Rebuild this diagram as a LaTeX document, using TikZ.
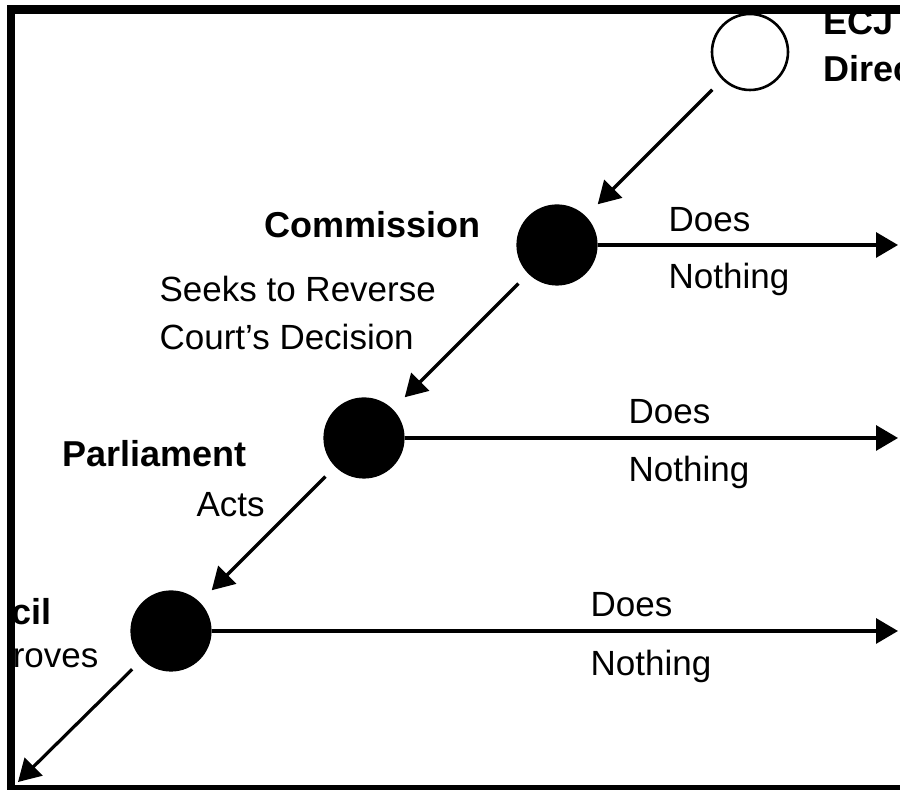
\documentclass[tikz,border=0pt]{standalone}
\usepackage{fontspec}
\setmainfont{Liberation Sans}
\usepackage{tikz}
\usetikzlibrary{positioning}
\usetikzlibrary{arrows.meta}
\tikzset{actor node/.style={circle,fill=black,draw,minimum size=39pt,inner sep=0pt},}
\tikzset{court node/.style={circle,fill=white,draw,line width=1.3pt,minimum size=38pt,inner sep=0pt},}
\tikzset{who/.style={font=\fontsize{18}{20}\selectfont\bfseries,inner sep=0pt},}
\tikzset{what/.style={font=\fontsize{17.5}{20}\selectfont,inner sep=0pt},}

\begin{document}
\begin{tikzpicture}[-{Triangle[length=11pt,width=12.5pt]}, x=1pt, y=1pt, line width=1.6pt, node distance=96.5pt and 96.5pt, on grid]
	\useasboundingbox (0,0) rectangle (450,395);
	\fill[white] (0,0) rectangle (450,395);
	\clip (0,0) rectangle (450,395);

	% the chain of players
	\node[court node] (ecj) at (375,369) {};
	\node[actor node] (com) [below left = of ecj] {};
	\node[actor node] (parl) [below left = of com] {};
	\node[actor node] (cou) [below left = of parl] {};
	\coordinate (rim) at (449,0);
	\coordinate (out) at (9,4);

	\path[draw]
	(ecj) edge [shorten <=7pt, shorten >=8.5pt] (com)
	(com) edge [shorten <=7pt, shorten >=8.5pt] (parl)
	(parl) edge [shorten <=7pt, shorten >=8.5pt] (cou)
	(cou) edge [shorten <=7pt] (out)
	(com) edge (com -| rim)
	(parl) edge (parl -| rim)
	(cou) edge (cou -| rim);

	% names and moves
	\node[who, anchor=base west] (ecjname) at (411,377.5) {ECJ};
	\node[who, anchor=base west] (ecjmove) at (411,354) {Direc};
	\node[who, anchor=base east] (comname) at (241,276) {Commission};
	\node[what, anchor=base west] (commove) at (79,244) {Seeks to Reverse};
	\node[what, anchor=base west] (commove2) at (79,220) {Court’s Decision};
	\node[who, anchor=base east] (parlname) at (124,161.5) {Parliament};
	\node[what, anchor=base west] (parlmove) at (97.5,136.5) {Acts};
	\node[who, anchor=base east] (couname) at (26.75,82.5) {cil};
	\node[what, anchor=base east] (coumove) at (50,61) {roves};

	\node[what, anchor=base west] (does1) at (333.5,279) {Does};
	\node[what, anchor=base west] (none1) at (333.5,250.5) {Nothing};
	\node[what, anchor=base west] (does2) at (313.5,183) {Does};
	\node[what, anchor=base west] (none2) at (313.5,154) {Nothing};
	\node[what, anchor=base west] (does3) at (294.5,86.5) {Does};
	\node[what, anchor=base west] (none3) at (294.5,57) {Nothing};

	% frame
	\fill (3.5,388) rectangle (450,392.5);
	\fill (3.5,0) rectangle (7.5,392.5);
	\fill (3.5,0) rectangle (450,2.5);
\end{tikzpicture}
\end{document}
